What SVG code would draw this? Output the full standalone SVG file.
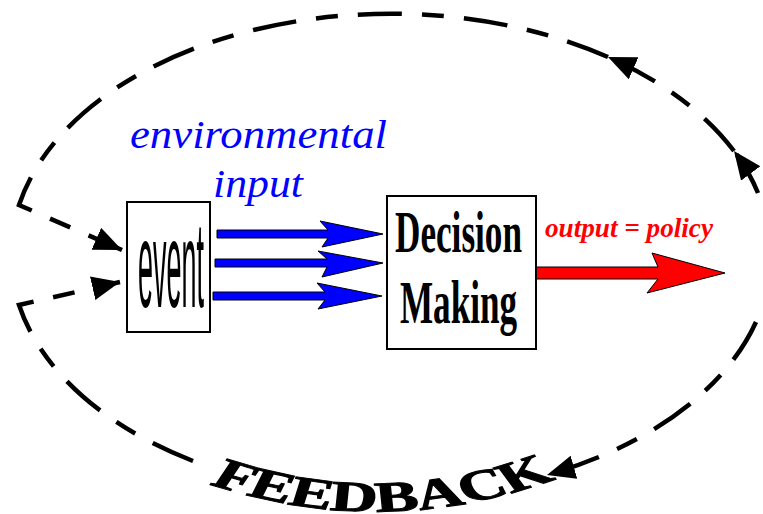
<svg xmlns="http://www.w3.org/2000/svg" width="763" height="514" viewBox="0 0 763 514">
<style>
.dash{fill:none;stroke:#000;stroke-width:4.5;stroke-dasharray:44 20 22 20;marker-end:url(#ah)}
.box{fill:#fff;stroke:#000;stroke-width:2}
.blue{fill:#0000ff;stroke:#000;stroke-width:1}
.red{fill:#ff0000;stroke:#000;stroke-width:1}
.lbl-blue{font-family:"Liberation Serif",serif;font-style:italic;font-size:41px;fill:#0000ff}
</style>
<defs>
<marker id="ah" markerUnits="userSpaceOnUse" markerWidth="30" markerHeight="26" refX="28" refY="12" orient="auto">
<path d="M0,0 L28,12 L0,24 Z" fill="#000"/>
</marker>
</defs>
<rect width="763" height="514" fill="#fff"/>
<g id="connectors">
<path class="dash" d="M758,193 A380 241 0 0 0 734,151"/>
<path class="dash" d="M734,151 A380 241 0 0 0 608,57"/>
<path class="dash" d="M608,57 A380 241 0 0 0 19,205 L122,250"/>
<path class="dash" d="M756,322 A380 241 0 0 1 547,475"/>
<path class="dash" d="M193,461 A380 241 0 0 1 19,305 L120,282"/>
<polygon class="blue" points="217,230 328,230 320,221 383,234 322,247 328,238 217,238"/>
<polygon class="blue" points="215,259 327,259 318,251 383,263 322,277 327,267 215,267"/>
<polygon class="blue" points="213,292 325,292 317,283 382,296 318,309 325,300 213,300"/>
<polygon class="red" points="524,267 658,267 652,253 725,273 647,293 658,279 524,279"/>
</g>
<g id="event">
<rect class="box" x="127" y="202" width="83" height="130"/>
<text x="138" y="307" font-family="Liberation Sans, Arial, sans-serif" font-size="122" textLength="66" lengthAdjust="spacingAndGlyphs">event</text>
</g>
<g id="decision">
<rect class="box" x="387" y="196" width="149" height="153"/>
<text x="395" y="252" font-family="Liberation Serif, serif" font-weight="bold" font-size="60" textLength="127" lengthAdjust="spacingAndGlyphs">Decision</text>
<text x="400" y="323" font-family="Liberation Serif, serif" font-weight="bold" font-size="62" textLength="117" lengthAdjust="spacingAndGlyphs">Making</text>
</g>
<g id="env-label">
<text class="lbl-blue" x="130" y="148" textLength="257" lengthAdjust="spacingAndGlyphs">environmental</text>
<text class="lbl-blue" x="213" y="197" textLength="90" lengthAdjust="spacingAndGlyphs">input</text>
</g>
<g id="output-label">
<text x="545" y="237" font-family="Liberation Serif, serif" font-weight="bold" font-style="italic" font-size="27" fill="#ff0000" textLength="168" lengthAdjust="spacingAndGlyphs">output = policy</text>
</g>
<g id="feedback-label" transform="translate(385 0) scale(1.52 1) translate(-385 0)">
<path id="fbpath" d="M269,484 Q385,542 499,478" fill="none"/>
<text font-family="Liberation Serif, serif" font-weight="bold" font-size="43" fill="#000" stroke="#000" stroke-width="1"><textPath href="#fbpath">FEEDBACK</textPath></text>
</g>
</svg>
